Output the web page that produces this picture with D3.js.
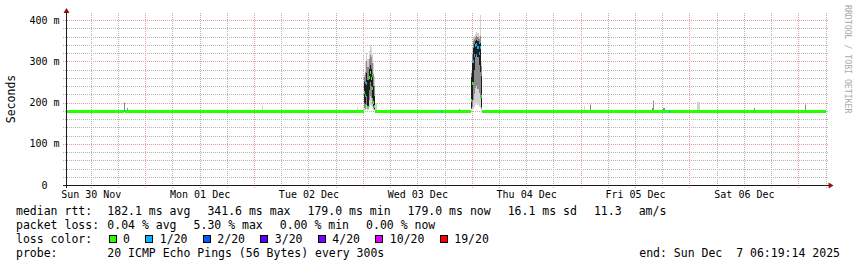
<!DOCTYPE html>
<html><head><meta charset="utf-8">
<script src="https://cdn.jsdelivr.net/npm/d3@7"></script>
<style>
html,body{margin:0;padding:0;background:#fff;}
svg{display:block;}
text{white-space:pre;}
</style></head><body>
<svg id="c" width="857" height="267" xml:space="preserve"></svg>
<script>
// ---------- data ----------
const END_TIME = "2025-12-07T06:19:14Z";
const RANGE_DAYS = 7;

const yTicks = [0, 100, 200, 300, 400];
const yTickLabels = ["0  ", "100 m", "200 m", "300 m", "400 m"];

const xLabelTimes = ["2025-11-30T12:00", "2025-12-01T12:00", "2025-12-02T12:00", "2025-12-03T12:00",
                     "2025-12-04T12:00", "2025-12-05T12:00", "2025-12-06T12:00"];
const xLabels = ["Sun 30 Nov", "Mon 01 Dec", "Tue 02 Dec", "Wed 03 Dec", "Thu 04 Dec", "Fri 05 Dec", "Sat 06 Dec"];

// step samples: each value holds until the next sample time
const sampleTimes = [
  "2025-11-30T06:15","2025-11-30T19:15","2025-11-30T19:30","2025-11-30T20:00","2025-11-30T20:15",
  "2025-12-02T01:45","2025-12-02T02:00","2025-12-02T22:45","2025-12-02T23:00",
  "2025-12-03T00:15","2025-12-03T00:30","2025-12-03T00:45","2025-12-03T01:00","2025-12-03T01:15",
  "2025-12-03T01:30","2025-12-03T01:45","2025-12-03T02:00","2025-12-03T02:15","2025-12-03T02:30",
  "2025-12-03T02:45","2025-12-03T03:00","2025-12-03T17:15","2025-12-03T17:30","2025-12-03T21:15",
  "2025-12-03T21:30","2025-12-03T23:45","2025-12-04T00:00","2025-12-04T00:15","2025-12-04T00:30",
  "2025-12-04T00:45","2025-12-04T01:00","2025-12-04T01:15","2025-12-04T01:30","2025-12-04T01:45",
  "2025-12-04T02:00","2025-12-04T02:15","2025-12-05T00:45","2025-12-05T01:00","2025-12-05T02:00",
  "2025-12-05T02:15","2025-12-05T15:45","2025-12-05T16:00","2025-12-05T16:15","2025-12-05T18:15",
  "2025-12-05T18:30","2025-12-05T19:30","2025-12-05T19:45","2025-12-06T01:45","2025-12-06T02:15",
  "2025-12-06T14:15","2025-12-06T14:30","2025-12-07T00:15","2025-12-07T01:30","2025-12-07T01:45",
  "2025-12-07T06:10"
];
const medianMs = [
  179.6,180.5,179.6,179.6,179.6,
  179.6,179.6,179.6,179.6,
  225,218,247,189,262,
  274,260,235,201,190,
  179.6,179.6,179.6,179.6,179.6,
  179.6,206,247,299,315,
  339,341.6,335,320,335,
  216,179.6,179.6,179.6,179.6,
  179.6,179.6,179.6,179.6,179.6,
  179.6,179.6,179.6,179.6,179.6,
  179.6,179.6,179.0,179.0,179.0,
  null
];
const lossPings = [
  0,1,0,0,0,
  0,0,0,0,
  0,1,1,0,0,
  0,0,0,0,0,
  0,0,1,0,0,
  0,0,0,1,1,
  1,1,1,1,1,
  0,0,0,0,0,
  0,0,0,0,0,
  0,1,0,0,0,
  0,0,0,0,0,
  null
];
const smokeMin = [
  179,179,179,179,179,
  179,179,179,179,
  183,182,184,182,190,
  195,192,186,183,181,
  179,179,179,179,179,
  179,182,183,185,190,
  195,200,195,190,186,
  182,179,179,179,179,
  179,179,179,179,179,
  179,179,179,179,179,
  179,179,178.5,178.5,178.5,
  null
];
const smokeP10 = [
  179.2,179.3,179.2,179.2,179.2,
  179.2,179.2,179.2,179.2,
  186,185,195,184,205,
  215,210,196,186,183,
  179.2,179.2,179.2,179.2,179.2,
  179.2,184,188,205,220,
  235,240,232,222,210,
  184,179.2,179.2,179.2,179.2,
  179.2,179.2,179.2,179.2,179.2,
  179.2,179.2,179.2,179.2,179.2,
  179.2,179.2,178.7,178.7,178.7,
  null
];
const smokeQ1 = [
  179.3,179.6,179.3,179.3,179.3,
  179.3,179.3,179.3,179.3,
  200,196,215,186,230,
  250,240,212,192,185,
  179.3,179.3,179.3,179.3,179.3,
  179.3,186,205,250,280,
  310,318,310,290,275,
  190,179.3,179.3,179.3,179.3,
  179.3,179.3,179.3,179.3,179.3,
  179.3,179.3,179.3,179.3,179.3,
  179.3,179.3,178.8,178.8,178.8,
  null
];
const smokeQ3 = [
  180,181,180,180,180,
  180,180,180,180,
  250,245,272,255,282,
  290,282,262,240,215,
  180,180,180,180,180,
  180,262,295,332,342,
  350,352,348,342,345,
  265,180,180,180,180,
  180,180,180,180,180,
  180,180,180,180,180,
  180,180,179.4,179.4,179.4,
  null
];
const smokeP90 = [
  180.5,199,180.5,186,180.5,
  181,180.5,181,180.5,
  262,275,300,285,305,
  315,310,295,270,240,
  183,180.5,180.5,180.5,184,
  180.5,272,318,348,355,
  360,362,360,355,362,
  288,180.5,181,180.5,195,
  180.5,186,204,180.5,186,
  180.5,180.5,180.5,181,180.5,
  186,180.5,180,195,180,
  null
];
const smokeMax = [
  181,201,181,187,181,
  194,181,188,181,
  268,300,320,305,325,
  339,335,318,295,265,
  200,181,181,181,185,
  181,280,332,356,362,
  366,372,368,362,412,
  300,181,191,181,196,
  181,187,206,181,187,
  181,181,181,201,181,
  187,181,180.5,197,180.5,
  null
];

const lossLevels = [0, 1, 2, 3, 4, 10, 19];
const lossLabels = ["0", "1/20", "2/20", "3/20", "4/20", "10/20", "19/20"];
const lossColors = ["#26ff00", "#00b8ff", "#0059ff", "#5e00ff", "#7e00ff", "#dd00ff", "#ff0000"];

const rowMedianLabel = "median rtt:";
const rowMedianItems = ["182.1 ms avg", "341.6 ms max", "179.0 ms min", "179.0 ms now", "16.1 ms sd", "11.3", "am/s"];
const rowLossLabel = "packet loss:";
const rowLossItems = ["0.04 % avg", "5.30 % max", "0.00 % min", "0.00 % now"];
const rowColorLabel = "loss color:";
const rowProbeLabel = "probe:";
const rowProbeText = "20 ICMP Echo Pings (56 Bytes) every 300s";
const endText = "end: Sun Dec  7 06:19:14 2025";
const yAxisTitle = "Seconds";
const watermark = "RRDTOOL / TOBI OETIKER";

// ---------- drawing ----------
const MONO = "'DejaVu Sans Mono', monospace";
const svg = d3.select("#c");
const parse = d3.utcParse("%Y-%m-%dT%H:%M");
const end = new Date(END_TIME);
const start = d3.utcDay.offset(end, -RANGE_DAYS);

const PL = 66, PR = 827, PB = 185, PT = 13;
const x = d3.scaleUtc().domain([start, end]).range([65, 827]);
const y = d3.scaleLinear().domain([0, 400]).range([185, 20]);

svg.append("rect").attr("width", 857).attr("height", 267).attr("fill", "#fff");

// grid
const gGrid = svg.append("g").attr("shape-rendering", "crispEdges").attr("stroke-dasharray", "1,1");
const minorColor = "#b4b4b4", majorColor = "#eb9a9a";
const yMinor = y.ticks(20).filter(v => !yTicks.includes(v));
gGrid.selectAll("line.hmin").data(yMinor).join("line")
  .attr("x1", 63).attr("x2", 828)
  .attr("y1", d => Math.round(y(d)) + 0.5).attr("y2", d => Math.round(y(d)) + 0.5)
  .attr("stroke", minorColor);
const days = d3.utcDay.range(start, end);
const sixH = d3.utcHour.every(6).range(start, end).filter(t => t.getUTCHours() !== 0);
gGrid.selectAll("line.vmin").data(sixH).join("line")
  .attr("x1", d => Math.round(x(d)) + 0.5).attr("x2", d => Math.round(x(d)) + 0.5)
  .attr("y1", PT).attr("y2", 188)
  .attr("stroke", minorColor);
gGrid.selectAll("line.vmaj").data(days).join("line")
  .attr("x1", d => Math.round(x(d)) + 0.5).attr("x2", d => Math.round(x(d)) + 0.5)
  .attr("y1", PT).attr("y2", 188)
  .attr("stroke", majorColor);
gGrid.selectAll("line.hmaj").data(yTicks).join("line")
  .attr("x1", 63).attr("x2", 828)
  .attr("y1", d => Math.round(y(d)) + 0.5).attr("y2", d => Math.round(y(d)) + 0.5)
  .attr("stroke", majorColor);

// data steps
const times = sampleTimes.map(parse);
const steps = [];
for (let i = 0; i < times.length - 1; i++) {
  if (medianMs[i] == null) continue;
  const t0 = times[i] < start ? start : times[i];
  steps.push({
    x0: x(t0), x1: x(times[i + 1]),
    med: medianMs[i], loss: lossPings[i],
    q: [smokeMin[i], smokeP10[i], smokeQ1[i], smokeQ3[i], smokeP90[i], smokeMax[i]]
  });
}
svg.append("clipPath").attr("id", "plot").append("rect")
  .attr("x", PL).attr("y", PT).attr("width", PR - PL + 1).attr("height", PB - PT);
const gData = svg.append("g").attr("clip-path", "url(#plot)").attr("shape-rendering", "crispEdges");
const bandColors = ["#d2d2d2", "#8a8a8a", "#1e1e1e", "#8a8a8a", "#d2d2d2"];
bandColors.forEach((col, b) => {
  gData.append("g").selectAll("rect").data(steps.filter(s => s.q[b + 1] - s.q[b] > 0.8)).join("rect")
    .attr("x", s => s.x0).attr("width", s => Math.max(1, s.x1 - s.x0))
    .attr("y", s => y(s.q[b + 1])).attr("height", s => y(s.q[b]) - y(s.q[b + 1]))
    .attr("fill", col);
});
const lossColor = d3.scaleThreshold().domain(lossLevels.slice(1)).range(lossColors);
gData.append("g").selectAll("rect").data(steps).join("rect")
  .attr("x", s => s.x0).attr("width", s => Math.max(1, s.x1 - s.x0))
  .attr("y", s => Math.round(y(s.med) - 1.2)).attr("height", 3)
  .attr("fill", s => lossColor(s.loss));

// axes lines
const gAx = svg.append("g").attr("shape-rendering", "crispEdges");
gAx.append("line").attr("x1", 63).attr("x2", 829).attr("y1", 185.5).attr("y2", 185.5).attr("stroke", "#1a1a1a");
gAx.append("line").attr("x1", 66.5).attr("x2", 66.5).attr("y1", 188).attr("y2", 11).attr("stroke", "#1a1a1a");
svg.append("path").attr("d", "M828.5,182.5 L833.5,185.5 L828.5,188.5 Z").attr("fill", "#8b1010");
svg.append("path").attr("d", "M63.5,13 L66.5,8 L69.5,13 Z").attr("fill", "#8b1010");

// y axis labels
const yAxis = d3.axisLeft(y).tickValues(yTicks).tickSize(0).tickPadding(6.5)
  .tickFormat((d, i) => yTickLabels[i]);
const gy = svg.append("g").attr("transform", "translate(66,0)").call(yAxis);
gy.select(".domain").remove();
gy.attr("font-family", MONO).attr("font-size", 10);
gy.selectAll("text").attr("fill", "#000").attr("xml:space", "preserve");

// x axis labels
const xAxis = d3.axisBottom(x).tickValues(xLabelTimes.map(parse)).tickSize(0).tickPadding(6.3)
  .tickFormat((d, i) => xLabels[i]);
const gx = svg.append("g").attr("transform", "translate(0,185)").call(xAxis);
gx.select(".domain").remove();
gx.attr("font-family", MONO).attr("font-size", 10);
gx.selectAll("text").attr("fill", "#000");

// y title
svg.append("text").attr("transform", "translate(15,99) rotate(-90)")
  .attr("text-anchor", "middle").attr("font-family", MONO).attr("font-size", 11.5)
  .attr("fill", "#000").text(yAxisTitle);
// watermark
svg.append("text").attr("transform", "translate(845,5) rotate(90)")
  .attr("font-family", MONO).attr("font-size", 8.2).attr("fill", "#aaaaaa").text(watermark);

// legend
const LF = 11.5, C1 = 16, C2 = 107.3, GAP = 17;
const rowsY = [215, 229, 243, 257];
const gLeg = svg.append("g").attr("font-family", MONO).attr("font-size", LF).attr("fill", "#000");
function textRow(label, items, yy) {
  gLeg.append("text").attr("x", C1).attr("y", yy).text(label);
  let cx = C2;
  items.forEach(it => {
    const t = gLeg.append("text").attr("x", cx).attr("y", yy).text(it);
    cx += t.node().getComputedTextLength() + GAP;
  });
}
textRow(rowMedianLabel, rowMedianItems, rowsY[0]);
textRow(rowLossLabel, rowLossItems, rowsY[1]);
gLeg.append("text").attr("x", C1).attr("y", rowsY[2]).text(rowColorLabel);
let bx = 108.5;
lossLabels.forEach((lab, i) => {
  gLeg.append("rect").attr("x", bx + 0.5).attr("y", rowsY[2] - 7.5).attr("width", 7).attr("height", 7)
    .attr("fill", lossColors[i]).attr("stroke", "#000").attr("stroke-width", 1)
    .attr("shape-rendering", "crispEdges");
  const t = gLeg.append("text").attr("x", bx + 14.6).attr("y", rowsY[2]).text(lab);
  bx = bx + 14.6 + t.node().getComputedTextLength() + 15.2;
});
textRow(rowProbeLabel, [rowProbeText], rowsY[3]);
gLeg.append("text").attr("x", 840).attr("y", rowsY[3]).attr("text-anchor", "end").text(endText);
</script>
</body></html>
